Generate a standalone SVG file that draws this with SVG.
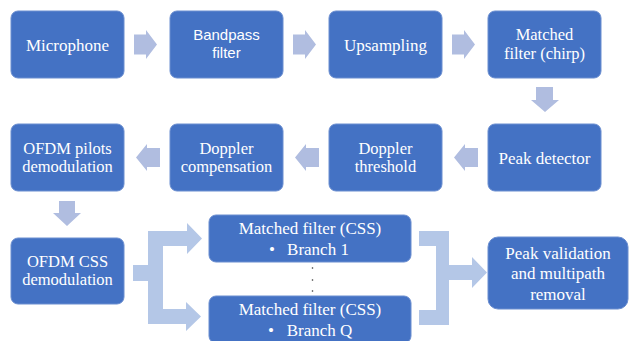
<svg xmlns="http://www.w3.org/2000/svg" width="631" height="341" viewBox="0 0 631 341">
<style>
.box{fill:#4472C4;stroke:#6B8ED0;stroke-width:1}
.t{font-family:"Liberation Serif","DejaVu Serif",serif;font-size:17px;fill:#FFFFFF;text-anchor:middle}
.t2{font-family:"Liberation Serif","DejaVu Serif",serif;font-size:16.5px;fill:#FFFFFF;text-anchor:middle}
.s{font-family:"Liberation Sans","DejaVu Sans",sans-serif;font-size:15px;fill:#FFFFFF;text-anchor:middle}
.arr{fill:#B0BDE0}
.br{fill:#B4C7E7}
.dot{fill:#333333}
</style>
<rect width="631" height="341" fill="#FFFFFF"/>
<g id="connectors">
<path class="arr" d="M134,34.5H146V30L157,44.5L146,59V54.5H134Z"/>
<path class="arr" d="M293,34.5H305V30L316,44.5L305,59V54.5H293Z"/>
<path class="arr" d="M452,34.5H464V30L475,44.5L464,59V54.5H452Z"/>
<path class="arr" d="M536,87H553V100H559L545,112L531,100H536Z"/>
<path class="arr" d="M465,148V144L454,157.5L465,171V167H478V148Z"/>
<path class="arr" d="M306,148V144L295,157.5L306,171V167H319V148Z"/>
<path class="arr" d="M147,148V144L136,157.5L147,171V167H160V148Z"/>
<path class="arr" d="M59,201H75V213H81L67,226L53,213H59Z"/>
<path class="br" d="M133,265H148V231H187V223L202,238.5L187,254V246H163V309H186V302L201,316.5L186,331V324H148V281H133Z"/>
<path class="br" d="M419,231H449V265H472V257L487,272.5L472,288V280H449V325H419V310H436V246H419Z"/>
</g>
<g id="microphone">
<rect class="box" x="11" y="11" width="113" height="67" rx="7"/>
<text class="t" x="67.5" y="50.5">Microphone</text>
</g>
<g id="bandpass">
<rect class="box" x="170" y="11" width="113" height="67" rx="7"/>
<text class="s" x="226.5" y="39.5">Bandpass</text>
<text class="s" x="226.5" y="58">filter</text>
</g>
<g id="upsampling">
<rect class="box" x="329" y="11" width="113" height="67" rx="7"/>
<text class="t" x="385.5" y="50.5">Upsampling</text>
</g>
<g id="matched-chirp">
<rect class="box" x="488" y="11" width="113" height="67" rx="7"/>
<text class="t2" x="544.5" y="40">Matched</text>
<text class="t2" x="544.5" y="59">filter (chirp)</text>
</g>
<g id="peak-detector">
<rect class="box" x="488" y="124" width="113" height="67" rx="7"/>
<text class="t" x="544.5" y="163.5">Peak detector</text>
</g>
<g id="doppler-threshold">
<rect class="box" x="329" y="124" width="113" height="67" rx="7"/>
<text class="t2" x="385.5" y="154">Doppler</text>
<text class="t2" x="385.5" y="172">threshold</text>
</g>
<g id="doppler-compensation">
<rect class="box" x="170" y="124" width="113" height="67" rx="7"/>
<text class="t2" x="226.5" y="154">Doppler</text>
<text class="t2" x="226.5" y="172">compensation</text>
</g>
<g id="ofdm-pilots">
<rect class="box" x="11" y="124" width="113" height="67" rx="7"/>
<text class="t2" x="67.5" y="154">OFDM pilots</text>
<text class="t2" x="67.5" y="172">demodulation</text>
</g>
<g id="ofdm-css">
<rect class="box" x="11" y="238" width="113" height="66" rx="7"/>
<text class="t2" x="67.5" y="266.5">OFDM CSS</text>
<text class="t2" x="67.5" y="284.5">demodulation</text>
</g>
<g id="branch-1">
<rect class="box" x="209" y="215" width="202" height="47" rx="7"/>
<text class="t" x="310" y="233.5">Matched filter (CSS)</text>
<text class="t" x="272" y="254.5">•</text>
<text class="t" x="318" y="254.5">Branch 1</text>
</g>
<g id="dots">
<circle class="dot" cx="312.5" cy="268" r="0.8"/>
<circle class="dot" cx="312.5" cy="280" r="0.8"/>
<circle class="dot" cx="312.5" cy="291" r="0.8"/>
</g>
<g id="branch-q">
<rect class="box" x="209" y="296" width="202" height="47" rx="7"/>
<text class="t" x="310" y="314.5">Matched filter (CSS)</text>
<text class="t" x="271" y="335.5">•</text>
<text class="t" x="319.5" y="335.5">Branch Q</text>
</g>
<g id="peak-validation">
<rect class="box" x="488" y="237" width="140" height="72" rx="10"/>
<text class="t" x="558" y="258.5">Peak validation</text>
<text class="t" x="558" y="279">and multipath</text>
<text class="t" x="558" y="299.5">removal</text>
</g>
</svg>
